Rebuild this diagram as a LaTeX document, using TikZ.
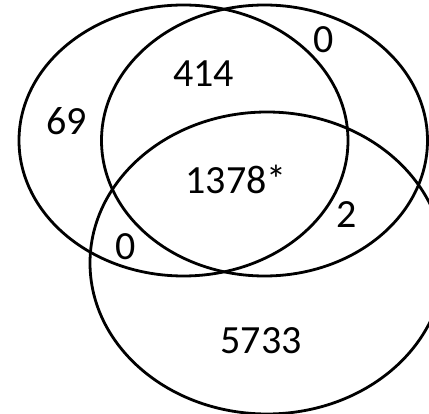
\documentclass[tikz,border=0pt]{standalone}
\usepackage{fontspec}
\setmainfont{Carlito}
\usepackage{tikz}
\tikzset{
  anillo/.style = {line width=2.8pt, draw=black},
  cifra/.style  = {font=\fontsize{40}{42}\selectfont, inner sep=0pt, text=black},
}

\begin{document}
\begin{tikzpicture}[x=1pt, y=-1pt]
  \useasboundingbox (0,0) rectangle (429,414);
  \clip (0,0) rectangle (429,414);
  % conjuntos
  \draw[anillo] (183.5,140.5) ellipse [x radius=164.5pt, y radius=135.5pt];
  \draw[anillo] (264.5,140.5) ellipse [x radius=163pt,   y radius=135.5pt];
  \draw[anillo] (267,263)     ellipse [x radius=177pt,   y radius=151pt];
  % regiones
  \node[cifra] (soloA)  at (66.7,120.7) {69};
  \node[cifra] (AB)     at (203.7,73.7) {414};
  \node[cifra] (soloB)  at (324,40)     {0};
  \node[cifra] (ABC)    at (236,179.5)  {1378*};
  \node[cifra] (BC)     at (347,215)    {2};
  \node[cifra] (AC)     at (126,247)    {0};
  \node[cifra] (soloC)  at (261,340.7)  {5733};
\end{tikzpicture}
\end{document}
